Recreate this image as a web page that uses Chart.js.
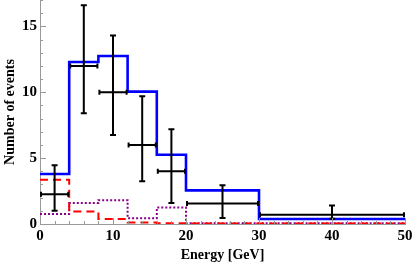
<!DOCTYPE html>
<html>
<head>
<meta charset="utf-8">
<script src="https://cdn.jsdelivr.net/npm/chart.js@4"></script>
<style>
  html, body { margin: 0; padding: 0; background: #fff; }
  #wrap { width: 413px; height: 266px; }
</style>
</head>
<body>
<div id="wrap"><canvas id="grafico"></canvas></div>
<script>
// bin edges in GeV
const edges = [0, 4, 8, 12, 16, 20, 30, 50];
// histogram values per bin
const total = [3.8, 12.3, 12.75, 10.05, 5.25, 2.55, 0.38];
const fondoRojo = [3.35, 0.95, 0.37, 0.12, 0.06, 0.03, 0.03];
const fondoMorado = [0.75, 1.6, 1.8, 0.43, 1.25, 0.06, 0.06];
// observed points
const centros = [2, 6, 10, 14, 18, 25, 40];
const observados = [2.25, 12, 10, 6, 4, 1.55, 0.7];
const errAbajo = [1.0, 8.4, 6.75, 3.25, 1.6, 0.45, 0.4];
const errArriba = [4.45, 16.6, 14.3, 9.7, 7.2, 2.95, 1.4];
// tick labels
const xTicks = [0, 10, 20, 30, 40, 50];
const yTicks = [0, 5, 10, 15];

function escalon(vals) {
  const pts = vals.map((v, i) => ({ x: edges[i], y: v }));
  pts.push({ x: edges[edges.length - 1], y: vals[vals.length - 1] });
  return pts;
}

// error bars (x and y) with caps
const barrasError = {
  id: 'barrasError',
  afterDatasetsDraw(chart) {
    const { ctx, scales: { x, y } } = chart;
    ctx.save();
    ctx.strokeStyle = '#000';
    ctx.lineWidth = 2;
    ctx.lineCap = 'butt';
    centros.forEach((c, i) => {
      const px = x.getPixelForValue(c);
      const py = y.getPixelForValue(observados[i]);
      const x0 = x.getPixelForValue(edges[i]);
      const x1 = x.getPixelForValue(edges[i + 1]);
      const yLo = y.getPixelForValue(errAbajo[i]);
      const yHi = y.getPixelForValue(errArriba[i]);
      ctx.beginPath();
      ctx.moveTo(px, yLo); ctx.lineTo(px, yHi);
      ctx.moveTo(px - 3, yLo); ctx.lineTo(px + 3, yLo);
      ctx.moveTo(px - 3, yHi); ctx.lineTo(px + 3, yHi);
      ctx.moveTo(x0, py); ctx.lineTo(x1, py);
      ctx.moveTo(x0 + 1, py - 2.5); ctx.lineTo(x0 + 1, py + 2.5);
      ctx.moveTo(x1 - 1, py - 2.5); ctx.lineTo(x1 - 1, py + 2.5);
      ctx.stroke();
    });
    ctx.restore();
  }
};

// inside ticks like the original frame
const marcasDentro = {
  id: 'marcasDentro',
  afterDraw(chart) {
    const { ctx, scales: { x, y }, chartArea } = chart;
    ctx.save();
    ctx.strokeStyle = '#999';
    ctx.lineWidth = 1;
    ctx.beginPath();
    for (let v = 0; v <= 17; v++) {
      const py = Math.round(y.getPixelForValue(v)) + 0.5;
      const len = v % 5 === 0 ? 6 : 3;
      ctx.moveTo(chartArea.left, py); ctx.lineTo(chartArea.left + len, py);
    }
    for (let v = 0; v <= 50; v += 2) {
      const px = Math.round(x.getPixelForValue(v)) + 0.5;
      const len = v % 10 === 0 ? 6 : 3;
      ctx.moveTo(px, chartArea.bottom); ctx.lineTo(px, chartArea.bottom - len);
    }
    ctx.stroke();
    ctx.restore();
  }
};

const fuenteTicks = { family: 'Liberation Serif', size: 15, weight: 'bold' };
const fuenteTitulo = { family: 'Liberation Serif', size: 14, weight: 'bold' };

new Chart(document.getElementById('grafico').getContext('2d'), {
  type: 'line',
  data: {
    datasets: [
      {
        label: 'total',
        data: escalon(total),
        stepped: 'before',
        borderColor: '#0000ff',
        borderWidth: 2.6,
        pointRadius: 0,
        fill: false
      },
      {
        label: 'rojo',
        data: escalon(fondoRojo),
        stepped: 'before',
        borderColor: '#ff0000',
        borderWidth: 2,
        borderDash: [8, 5],
        pointRadius: 0,
        fill: false
      },
      {
        label: 'morado',
        data: escalon(fondoMorado),
        stepped: 'before',
        borderColor: '#880088',
        borderWidth: 2,
        borderDash: [2, 2],
        pointRadius: 0,
        fill: false
      }
    ]
  },
  options: {
    responsive: true,
    maintainAspectRatio: false,
    animation: false,
    devicePixelRatio: 1,
    layout: { padding: { left: 0, right: 8, top: 0, bottom: 0 } },
    plugins: { legend: { display: false }, tooltip: { enabled: false } },
    scales: {
      x: {
        type: 'linear',
        min: 0,
        max: 50,
        afterBuildTicks: s => { s.ticks = xTicks.map(v => ({ value: v })); },
        afterFit: s => { s.height = 42; s.paddingLeft = 0; s.paddingRight = 0; },
        grid: { display: true, drawOnChartArea: false, drawTicks: false },
        border: { color: '#999', width: 1 },
        ticks: { color: '#000', font: fuenteTicks, padding: 3, maxRotation: 0 },
        title: { display: true, text: 'Energy [GeV]', color: '#000', font: fuenteTitulo, padding: { top: 0, bottom: 2 } }
      },
      y: {
        min: 0,
        max: 17,
        afterBuildTicks: s => { s.ticks = yTicks.map(v => ({ value: v })); },
        afterFit: s => { s.width = 40; s.paddingTop = 0; s.paddingBottom = 0; },
        grid: { display: true, drawOnChartArea: false, drawTicks: false },
        border: { color: '#999', width: 1 },
        ticks: { color: '#000', font: fuenteTicks, padding: 3 },
        title: { display: true, text: 'Number of events', color: '#000', font: fuenteTitulo, padding: { top: 2, bottom: 0 } }
      }
    }
  },
  plugins: [barrasError, marcasDentro]
});
</script>
</body>
</html>
